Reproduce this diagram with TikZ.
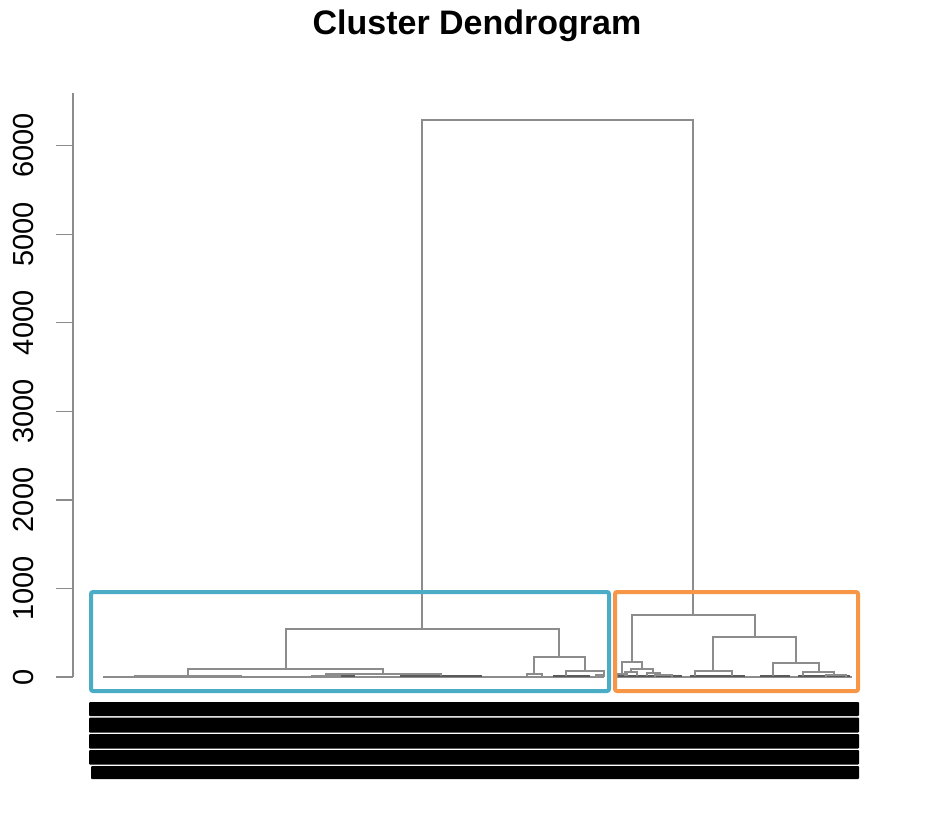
\documentclass[tikz,border=0pt]{standalone}
\usepackage{fontspec}
\setmainfont{Liberation Sans}
\definecolor{dgray}{HTML}{8C8C8C}
\definecolor{boxblue}{HTML}{4BACC6}
\definecolor{boxorange}{HTML}{F79646}
\newcommand\mrg[5]{\draw[dend] (#1,#2) -- (#1,#5) -- (#3,#5) -- (#3,#4);}
\begin{document}
\begin{tikzpicture}[x=1pt,y=-1pt,
  dend/.style={draw=dgray, line width=1.1pt},
  leafdk/.style={draw=black!65, line width=1.6pt},
  axisline/.style={draw=dgray, line width=1.2pt},
  ticklab/.style={rotate=90, anchor=base, font=\fontsize{29}{32}\selectfont},
  clbox/.style={line width=4pt, rounded corners=2pt},
  labbar/.style={fill=black, rounded corners=1pt}]
\useasboundingbox (0,0) rectangle (940,816);
% title
\node[font=\bfseries\fontsize{34}{40}\selectfont, anchor=base] (title) at (477,35) {Cluster Dendrogram};
% axis
\draw[axisline] (73,93) -- (73,677);
\foreach \v in {0,1000,2000,3000,4000,5000,6000}{
  \pgfmathsetmacro\yy{677-0.08855*\v}
  \draw[axisline] (56,\yy) -- (73,\yy);
  \node[ticklab] (t\v) at (33,\yy) {\v};
}
% leaves baseline
\draw[dend] (103,677) -- (604,677);
\draw[dend] (616,677) -- (852,677);
% dense low merges
\draw[leafdk] (135,676) -- (241,676);
\draw[leafdk] (312,676) -- (355,676);
\draw[leafdk] (400,676) -- (482,676);
\draw[leafdk] (553,676) -- (590,676);
\draw[leafdk] (618,676) -- (682,676);
\draw[leafdk] (690,676) -- (745,676);
\draw[leafdk] (760,676) -- (790,676);
\draw[leafdk] (798,676) -- (850,676);
% left cluster
\mrg{422}{629}{693}{615}{120}
\mrg{286}{669}{559}{657}{629}
\mrg{188}{676}{383}{674}{669}
\mrg{135}{677}{241}{677}{676}
\mrg{326}{676}{441}{676}{674}
\mrg{312}{677}{340}{677}{676}
\mrg{534}{674}{585}{671}{657}
\mrg{527}{677}{542}{677}{674}
\mrg{566}{676}{604}{677}{671}
\mrg{596}{677}{604}{677}{675}
% right cluster
\mrg{632}{662}{755}{637}{615}
\mrg{622}{674}{642}{669}{662}
\mrg{617}{677}{627}{676}{674}
\mrg{631}{672}{653}{673}{669}
\mrg{625}{676}{637}{676}{672}
\mrg{647}{676}{660}{676}{673}
\mrg{655}{677}{672}{677}{675}
\mrg{713}{671}{796}{663}{637}
\mrg{695}{676}{732}{676}{671}
\mrg{773}{676}{819}{672}{663}
\mrg{803}{676}{834}{676}{672}
\mrg{826}{677}{846}{677}{675}
% cluster boxes
\draw[clbox, draw=boxblue] (91,592) rectangle (609,691);
\draw[clbox, draw=boxorange] (615,592) rectangle (858,691);
% overplotted leaf labels
\fill[labbar] (89,702) rectangle (859,716);
\fill[labbar] (89,717.5) rectangle (859,732.5);
\fill[labbar] (89,734) rectangle (859,748.5);
\fill[labbar] (89,750) rectangle (859,764.5);
\fill[labbar] (91,766) rectangle (859,779);
\end{tikzpicture}
\end{document}
